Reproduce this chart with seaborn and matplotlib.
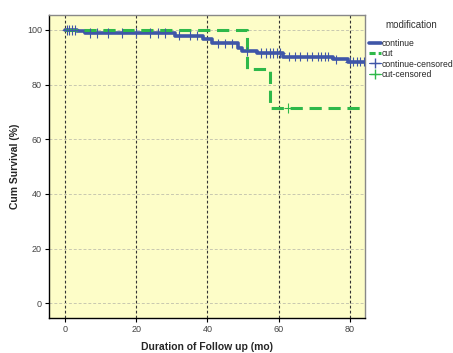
import numpy as np
import pandas as pd
import matplotlib
matplotlib.use("Agg")
import matplotlib.pyplot as plt
import seaborn as sns
from matplotlib.lines import Line2D

# step curves (time in months, cumulative survival %)
cont_time = [0, 3.5, 5.6, 30.9, 38.9, 41.2, 48.7, 49.6, 53.8, 61.3, 75.4, 79.6, 84.3]
cont_surv = [100, 99.5, 98.9, 97.9, 96.7, 95.1, 93.5, 92.1, 91.5, 90.2, 89.2, 88.4, 88.4]
cut_time = [0, 51.0, 57.6, 84.3]
cut_surv = [100, 85.7, 71.4, 71.4]

# censored observations
cont_cens_time = [0.5, 1.2, 2.0, 2.8, 7, 9, 12, 16, 20, 24, 26, 28, 32, 35, 37,
                  43, 45, 47, 51, 55, 56.5, 57.5, 58.5, 59.5, 60.5, 63, 64.5, 66,
                  68, 69.5, 71, 72, 73, 74, 76, 80, 81, 82, 83, 84]
cut_cens_time = [62.7]


def surv_at(t, times, surv):
    idx = np.searchsorted(times, t, side="right") - 1
    return surv[idx]


curves = pd.DataFrame({
    "time": cont_time + cut_time,
    "surv": cont_surv + cut_surv,
    "group": ["continue"] * len(cont_time) + ["cut"] * len(cut_time),
})
cens = pd.DataFrame({
    "time": cont_cens_time + cut_cens_time,
    "surv": [surv_at(t, cont_time, cont_surv) for t in cont_cens_time]
            + [surv_at(t, cut_time, cut_surv) for t in cut_cens_time],
    "group": ["continue"] * len(cont_cens_time) + ["cut"] * len(cut_cens_time),
})

blue = "#3f56a8"
green = "#2eb84a"
palette = {"continue": blue, "cut": green}

sns.set_style("white")
plt.rcParams["font.family"] = ["Liberation Sans", "DejaVu Sans"]

fig = plt.figure(figsize=(4.53, 3.53), dpi=100)
ax = fig.add_axes([0.108, 0.099, 0.698, 0.859])
ax.set_facecolor("#fdfdc8")

# grid lines
for v in [0, 20, 40, 60, 80]:
    ax.axvline(v, color="#333333", lw=0.8, ls=(0, (2.5, 2)), zorder=1)
for v in [0, 20, 40, 60, 80, 100]:
    ax.axhline(v, color="#c8c8b0", lw=0.7, ls=(0, (3, 2)), zorder=1)

sns.lineplot(data=curves[curves.group == "continue"], x="time", y="surv",
             color=blue, lw=2.6, drawstyle="steps-post", estimator=None,
             ax=ax, legend=False, zorder=3)
sns.lineplot(data=curves[curves.group == "cut"], x="time", y="surv",
             color=green, lw=2.2, drawstyle="steps-post", estimator=None,
             dashes=False, ls=(0, (4, 2.2)), ax=ax, legend=False, zorder=4)
sns.scatterplot(data=cens, x="time", y="surv", hue="group", palette=palette,
                marker="+", s=45, linewidth=0.8, ax=ax, legend=False, zorder=5)

ax.set_xlim(-4.5, 84.3)
ax.set_ylim(-5.4, 105.5)
ax.set_xticks([0, 20, 40, 60, 80])
ax.set_yticks([0, 20, 40, 60, 80, 100])
ax.tick_params(axis="both", labelsize=6.5, colors="black", labelcolor="#444444",
               length=3, width=0.8, direction="out", left=True, bottom=True,
               pad=2)

for s in ["left", "bottom"]:
    ax.spines[s].set_color("black")
    ax.spines[s].set_linewidth(1.0)
for s in ["top", "right"]:
    ax.spines[s].set_color("#888888")
    ax.spines[s].set_linewidth(1.0)

ax.set_xlabel("Duration of Follow up (mo)", fontsize=7.5, fontweight="bold",
              labelpad=6)
ax.set_ylabel("Cum Survival (%)", fontsize=7.5, fontweight="bold", labelpad=5)

handles = [
    Line2D([], [], color=blue, lw=2.6),
    Line2D([], [], color=green, lw=2.2, ls=(0, (2, 1))),
    Line2D([], [], color=blue, marker="+", lw=0.8, markersize=7),
    Line2D([], [], color=green, marker="+", lw=0.8, markersize=7),
]
labels = ["continue", "cut", "continue-censored", "cut-censored"]
fig.text(0.907, 1 - 25 / 353, "modification", ha="center", va="center",
         fontsize=7, color="#333333")
fig.legend(handles, labels, loc="upper left",
           bbox_to_anchor=(0.806, 1 - 36 / 353), frameon=False, fontsize=6.2,
           handlelength=1.5, handletextpad=0.05,
           labelspacing=0.12, borderaxespad=0)

fig.savefig("out.png", dpi=100)
